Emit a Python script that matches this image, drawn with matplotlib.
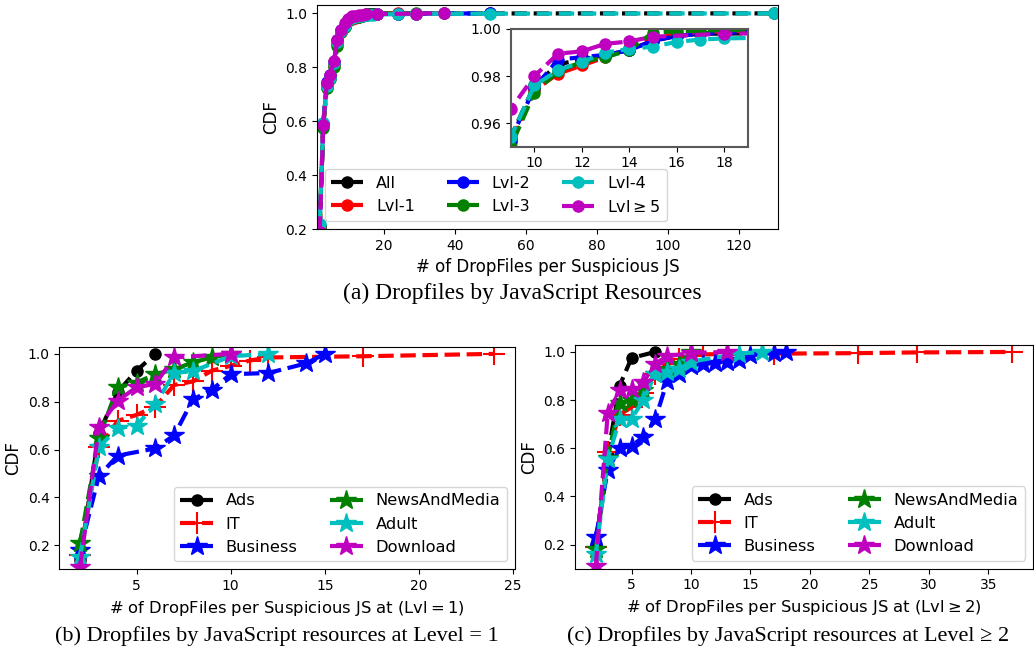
import matplotlib
matplotlib.use('Agg')
import matplotlib.pyplot as plt

# (a) dropfiles per suspicious JS, by level
lvl_labels = ['All', 'Lvl-1', 'Lvl-2', 'Lvl-3', 'Lvl-4', r'Lvl$\geq5$']
lvl_colors = ['k', 'r', 'b', 'g', 'c', 'm']

all_x = [2, 3, 4, 5, 6, 7, 8, 9, 10, 11, 12, 13, 14, 15, 16, 17, 18, 24, 29, 37, 50, 130]
all_cdf = [0.21, 0.59, 0.735, 0.765, 0.815, 0.895, 0.935, 0.954, 0.976, 0.985, 0.987, 0.989,
           0.991, 0.995, 0.997, 0.998, 0.998, 0.999, 0.9993, 0.9996, 0.9998, 1.0]
lvl1_x = [2, 3, 4, 5, 6, 7, 8, 9, 10, 11, 12, 13, 14, 15, 16, 17, 18, 24]
lvl1_cdf = [0.2, 0.585, 0.73, 0.76, 0.81, 0.89, 0.93, 0.952, 0.974, 0.981, 0.9845, 0.988,
            0.992, 0.997, 0.998, 0.9985, 0.999, 1.0]
lvl2_x = [2, 3, 4, 5, 6, 7, 8, 9, 10, 11, 12, 13, 14, 15, 16, 17, 18, 24, 50]
lvl2_cdf = [0.19, 0.595, 0.745, 0.77, 0.82, 0.9, 0.94, 0.953, 0.975, 0.987, 0.988, 0.989,
            0.991, 0.995, 0.997, 0.998, 0.9985, 0.999, 1.0]
lvl3_x = [2, 3, 4, 5, 6, 7, 8, 9, 10, 11, 12, 13, 14, 15, 16, 17, 18, 29]
lvl3_cdf = [0.2, 0.575, 0.725, 0.755, 0.80, 0.88, 0.93, 0.950, 0.973, 0.982, 0.986, 0.988,
            0.991, 0.9985, 0.999, 0.9993, 0.9995, 1.0]
lvl4_x = [2, 3, 4, 5, 6, 7, 8, 9, 10, 11, 12, 13, 14, 15, 16, 17, 18, 24, 29, 50, 130]
lvl4_cdf = [0.22, 0.595, 0.73, 0.76, 0.815, 0.895, 0.935, 0.954, 0.976, 0.9825, 0.986, 0.990,
            0.9915, 0.9925, 0.9945, 0.9955, 0.996, 0.997, 0.998, 0.999, 1.0]
lvl5_x = [2, 3, 4, 5, 6, 7, 8, 9, 10, 11, 12, 13, 14, 15, 18, 29, 37]
lvl5_cdf = [0.19, 0.585, 0.74, 0.77, 0.825, 0.90, 0.94, 0.966, 0.980, 0.9895, 0.9905, 0.9937,
            0.9947, 0.9967, 0.998, 0.999, 1.0]

# (b)/(c) by category
cat_labels = ['Ads', 'IT', 'Business', 'NewsAndMedia', 'Adult', 'Download']
cat_colors = ['k', 'r', 'b', 'g', 'c', 'm']
cat_markers = ['o', '+', '*', '*', '*', '*']

# level = 1
l1_ads_x = [2, 3, 4, 5, 6]
l1_ads = [0.14, 0.67, 0.84, 0.93, 1.0]
l1_it_x = [2, 3, 4, 5, 6, 7, 8, 9, 10, 11, 12, 17, 24]
l1_it = [0.16, 0.61, 0.72, 0.745, 0.78, 0.87, 0.885, 0.93, 0.95, 0.972, 0.985, 0.99, 1.0]
l1_bus_x = [2, 3, 4, 6, 7, 8, 9, 10, 12, 14, 15]
l1_bus = [0.18, 0.49, 0.575, 0.605, 0.66, 0.81, 0.85, 0.915, 0.92, 0.96, 1.0]
l1_news_x = [2, 3, 4, 5, 6, 7, 8, 9, 10]
l1_news = [0.21, 0.65, 0.86, 0.88, 0.915, 0.935, 0.965, 0.985, 1.0]
l1_adult_x = [2, 3, 4, 5, 6, 7, 8, 10, 12]
l1_adult = [0.15, 0.61, 0.69, 0.70, 0.79, 0.92, 0.928, 0.99, 1.0]
l1_dl_x = [2, 3, 4, 5, 6, 7, 10]
l1_dl = [0.11, 0.695, 0.805, 0.86, 0.875, 0.985, 1.0]

# level >= 2
l2_ads_x = [2, 3, 4, 5, 7]
l2_ads = [0.2, 0.57, 0.86, 0.975, 1.0]
l2_it_x = [2, 3, 4, 5, 6, 7, 8, 9, 10, 11, 17, 24, 29, 37]
l2_it = [0.19, 0.585, 0.74, 0.77, 0.83, 0.91, 0.95, 0.97, 0.985, 0.99, 0.993, 0.995, 0.998, 1.0]
l2_bus_x = [2, 3, 4, 5, 6, 7, 8, 9, 10, 11, 12, 13, 14, 15, 17, 18]
l2_bus = [0.23, 0.51, 0.60, 0.61, 0.647, 0.72, 0.88, 0.91, 0.94, 0.95, 0.955, 0.96, 0.965,
          0.986, 0.996, 1.0]
l2_news_x = [2, 3, 4, 5, 6, 7, 8, 9, 10]
l2_news = [0.18, 0.56, 0.79, 0.80, 0.84, 0.91, 0.93, 0.95, 1.0]
l2_adult_x = [2, 3, 4, 5, 6, 7, 8, 9, 10, 14, 16]
l2_adult = [0.16, 0.555, 0.72, 0.723, 0.80, 0.91, 0.917, 0.93, 0.96, 0.993, 1.0]
l2_dl_x = [2, 3, 4, 5, 6, 7, 8, 10, 13]
l2_dl = [0.11, 0.745, 0.84, 0.848, 0.875, 0.952, 0.982, 0.996, 1.0]

lvl_series = [(all_x, all_cdf), (lvl1_x, lvl1_cdf), (lvl2_x, lvl2_cdf),
              (lvl3_x, lvl3_cdf), (lvl4_x, lvl4_cdf), (lvl5_x, lvl5_cdf)]
l1_series = [(l1_ads_x, l1_ads), (l1_it_x, l1_it), (l1_bus_x, l1_bus),
             (l1_news_x, l1_news), (l1_adult_x, l1_adult), (l1_dl_x, l1_dl)]
l2_series = [(l2_ads_x, l2_ads), (l2_it_x, l2_it), (l2_bus_x, l2_bus),
             (l2_news_x, l2_news), (l2_adult_x, l2_adult), (l2_dl_x, l2_dl)]

fig = plt.figure(figsize=(10.34, 6.54), dpi=100)
serif = ['Liberation Serif', 'DejaVu Serif']

# top plot
ax = fig.add_axes([0.3066, 0.6498, 0.4458, 0.3425])
for (x, y), lab, col in zip(lvl_series, lvl_labels, lvl_colors):
    ax.plot(x, y, '--', color=col, marker='o', lw=3, ms=8, label=lab)
ax.set_xlim(1.25, 131)
ax.set_ylim(0.2, 1.031)
ax.set_xticks([20, 40, 60, 80, 100, 120])
ax.set_yticks([0.2, 0.4, 0.6, 0.8, 1.0])
ax.tick_params(labelsize=10)
ax.set_xlabel('# of DropFiles per Suspicious JS', fontsize=12)
ax.set_ylabel('CDF', fontsize=12)
ax.legend(loc='lower left', ncol=3, fontsize=11.5)

# zoomed inset
axin = fig.add_axes([0.4939, 0.7757, 0.2292, 0.18])
for (x, y), col in zip(lvl_series, lvl_colors):
    axin.plot(x, y, '--', color=col, marker='o', lw=3, ms=8)
axin.set_xlim(9, 19)
axin.set_ylim(0.95, 1.0)
axin.set_xticks([10, 12, 14, 16, 18])
axin.set_yticks([0.96, 0.98, 1.00])
axin.set_yticklabels(['0.96', '0.98', '1.00'])
axin.tick_params(labelsize=10)
for s in axin.spines.values():
    s.set_color('0.35')
    s.set_linewidth(1.5)


def cat_plot(ax, series, xlabel):
    for (x, y), lab, col, mk in zip(series, cat_labels, cat_colors, cat_markers):
        if mk == 'o':
            ax.plot(x, y, '--', color=col, marker=mk, lw=3, ms=8, label=lab)
        elif mk == '+':
            ax.plot(x, y, '--', color=col, marker=mk, lw=3, ms=16, mew=1.5, label=lab)
        else:
            ax.plot(x, y, '--', color=col, marker=mk, lw=3, ms=15, label=lab)
    ax.set_ylim(0.1, 1.03)
    ax.set_yticks([0.2, 0.4, 0.6, 0.8, 1.0])
    ax.tick_params(labelsize=10)
    ax.set_xlabel(xlabel, fontsize=11.8)
    ax.set_ylabel('CDF', fontsize=12)
    ax.legend(loc='lower right', ncol=2, fontsize=11.7)


ax1 = fig.add_axes([0.0574, 0.1295, 0.4407, 0.3404])
cat_plot(ax1, l1_series, r'# of DropFiles per Suspicious JS at (Lvl$=1$)')
ax1.set_xticks([5, 10, 15, 20, 25])

ax2 = fig.add_axes([0.5561, 0.1304, 0.443, 0.3425])
cat_plot(ax2, l2_series, r'# of DropFiles per Suspicious JS at (Lvl$\geq2$)')
ax2.set_xticks([5, 10, 15, 20, 25, 30, 35])

fig.text(0.505, 1 - 293 / 654, '(a) Dropfiles by JavaScript Resources',
         ha='center', va='center', fontsize=17, family=serif)
fig.text(0.268, 1 - 636 / 654, '(b) Dropfiles by JavaScript resources at Level = 1',
         ha='center', va='center', fontsize=16, family=serif)
fig.text(0.762, 1 - 636 / 654, '(c) Dropfiles by JavaScript resources at Level \u2265 2',
         ha='center', va='center', fontsize=16, family=serif)

fig.savefig('out.png', dpi=100)
